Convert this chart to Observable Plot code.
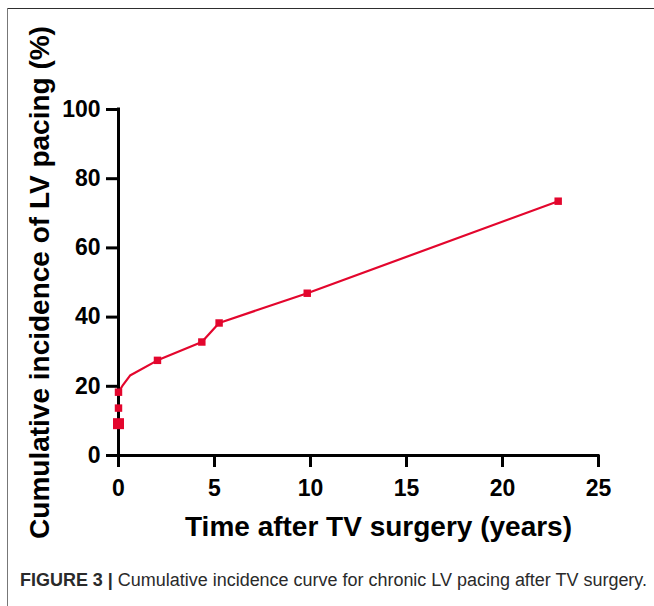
<!DOCTYPE html>
<html><head><meta charset="utf-8">
<script src="https://cdn.jsdelivr.net/npm/d3@7"></script>
<script src="https://cdn.jsdelivr.net/npm/@observablehq/plot@0.6"></script>
<style>
html,body{margin:0;padding:0;background:#fff;}
#wrap{position:relative;width:654px;height:606px;overflow:hidden;font-family:"Liberation Sans",Arial,sans-serif;}
#chart{position:absolute;left:0;top:0;}
.frameTop{position:absolute;left:7px;top:7.5px;width:647px;height:0;border-top:1.5px solid #2e2e2e;}
.frameLeft{position:absolute;left:7px;top:7.5px;width:0;height:599px;border-left:1.5px solid #777;}
#caption{position:absolute;left:0;top:0;pointer-events:none;}
</style></head>
<body><div id="wrap"><div id="chart"></div><div class="frameTop"></div><div class="frameLeft"></div>
<svg id="caption" width="654" height="606"><text x="20" y="586" textLength="627" lengthAdjust="spacingAndGlyphs" font-family="'Liberation Sans Narrow','Liberation Sans',Arial,sans-serif" font-size="18" fill="#2a2a2a"><tspan font-weight="bold">FIGURE 3 |</tspan> Cumulative incidence curve for chronic LV pacing after TV surgery.</text></svg>
</div>
<script>
const xTicks = [0, 5, 10, 15, 20, 25];
const yTicks = [0, 20, 40, 60, 80, 100];
const markerTime = [0, 0, 0, 2.03, 4.34, 5.24, 9.83, 22.9];
const markerIncidence = [9.2, 13.7, 18.3, 27.5, 32.8, 38.3, 46.9, 73.5];
const curveTime = [0, 0, 0.2, 0.6, 2.03, 4.34, 5.24, 9.83, 22.9];
const curveIncidence = [9.2, 18.3, 20.1, 23.1, 27.5, 32.8, 38.3, 46.9, 73.5];
const xLabel = "Time after TV surgery (years)";
const yLabel = "Cumulative incidence of LV pacing (%)";

const markers = markerTime.map((t, i) => ({time: t, incidence: markerIncidence[i]}));
const curve = curveTime.map((t, i) => ({time: t, incidence: curveIncidence[i]}));
const red = "#e3062d";
const font = '"Liberation Sans", Arial, sans-serif';

const plot = Plot.plot({
  width: 654, height: 560,
  marginLeft: 118, marginRight: 56, marginTop: 109, marginBottom: 105,
  x: {domain: [0, 25]},
  y: {domain: [0, 100]},
  style: {fontFamily: font, fontWeight: "bold", fontSize: "23px", background: "none", color: "#000"},
  marks: [
    Plot.line(curve, {x: "time", y: "incidence", stroke: red, strokeWidth: 2.2}),
    Plot.ruleX([0], {y1: 0, y2: 100, strokeWidth: 3, strokeLinecap: "square"}),
    Plot.ruleY([0], {x1: 0, x2: 25, strokeWidth: 3, strokeLinecap: "square"}),
    Plot.axisX({ticks: xTicks, tickSize: 12, tickPadding: 12, strokeWidth: 3, label: null, fontSize: 23, fontWeight: "bold"}),
    Plot.axisY({ticks: yTicks, tickSize: 12, tickPadding: 6, strokeWidth: 3, label: null, fontSize: 23, fontWeight: "bold"}),
    Plot.dot(markers.slice(0, 1), {x: "time", y: "incidence", symbol: "square", r: 6.2, fill: red}),
    Plot.dot(markers.slice(1), {x: "time", y: "incidence", symbol: "square", r: 4.2, fill: red}),
    Plot.text([xLabel], {frameAnchor: "bottom", lineAnchor: "middle", textAnchor: "middle", dx: 20, dy: 72, fontSize: 28, fontWeight: "bold"}),
    Plot.text([yLabel], {frameAnchor: "left", lineAnchor: "middle", textAnchor: "middle", dx: -78, rotate: -90, fontSize: 28, fontWeight: "bold"})
  ]
});
document.getElementById("chart").appendChild(plot);
</script>
</body></html>
